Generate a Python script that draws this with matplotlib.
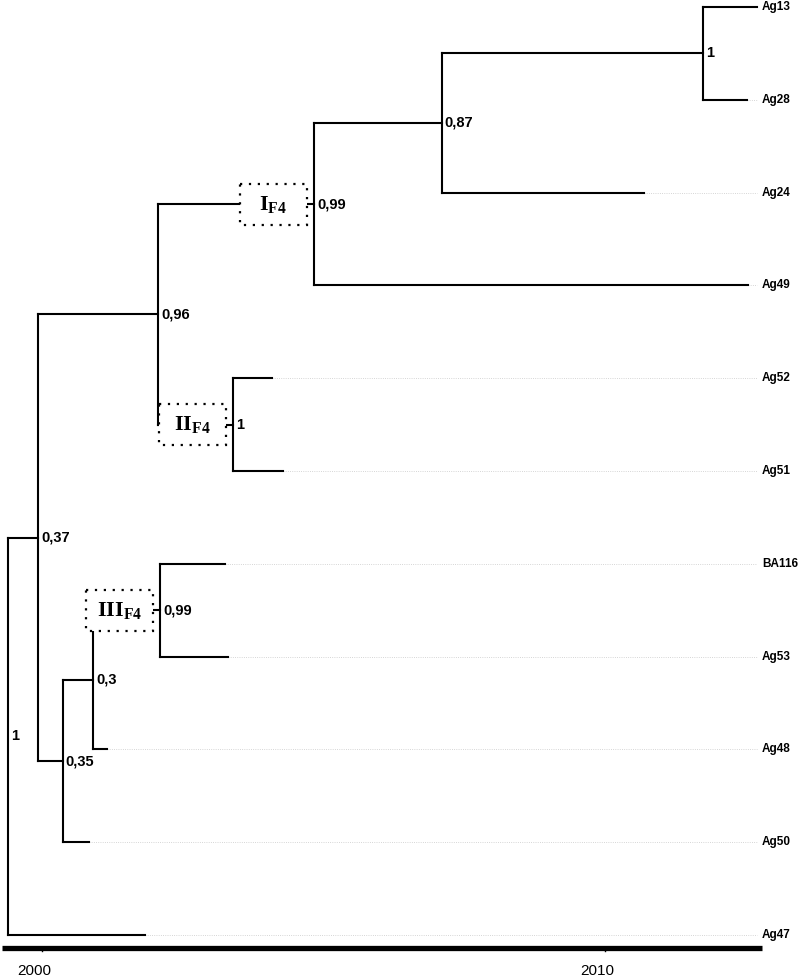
import matplotlib.pyplot as plt
from matplotlib.patches import Rectangle

plt.rcParams['font.family'] = ['Liberation Sans', 'DejaVu Sans']
plt.rcParams['mathtext.fontset'] = 'custom'
plt.rcParams['mathtext.rm'] = 'Liberation Serif'
plt.rcParams['mathtext.bf'] = 'Liberation Serif:bold'

# leaves (top to bottom) and their tip dates
leaves = ["Ag13", "Ag28", "Ag24", "Ag49", "Ag52", "Ag51", "BA116", "Ag53", "Ag48", "Ag50", "Ag47"]
leaf_dates = [2012.70, 2012.52, 2010.69, 2012.54, 2004.09, 2004.28, 2003.25, 2003.30, 2001.15, 2000.83, 2001.83]

# internal nodes: children (int = leaf index, str = node name), date, posterior support
node_names = ["n1", "n087", "nI", "nII", "n096", "nIII", "n03", "n035", "n037", "root"]
node_children = [(0, 1), ("n1", 2), ("n087", 3), (4, 5), ("nI", "nII"),
                 (6, 7), ("nIII", 8), ("n03", 9), ("n096", "n035"), ("n037", 10)]
node_dates = [2011.74, 2007.10, 2004.83, 2003.39, 2002.06, 2002.10, 2000.91, 2000.37, 1999.93, 1999.40]
node_support = ["1", "0,87", "0,99", "1", "0,96", "0,99", "0,3", "0,35", "0,37", "1"]

# clade boxes
clade_nodes = ["nI", "nII", "nIII"]
clade_labels = ["I", "II", "III"]

tick_years = [2000, 2010]

# pixel based layout: x pixel 42 = year 2000, y pixel 7 = first leaf
PX_YEAR = 56.3
PX_LEAF = 92.8
dx = 1 / PX_YEAR
dy = 1 / PX_LEAF


def px(p):
    return 2000 + (p - 42) * dx


def py(p):
    return (p - 7) * dy


fig = plt.figure(figsize=(7.99, 9.80), dpi=100)
ax = fig.add_axes([0, 0, 1, 1])
ax.set_xlim(px(0), px(799))
ax.set_ylim(py(980), py(0))
ax.axis("off")

pos = {}
for i in range(len(leaves)):
    pos[i] = (leaf_dates[i], i)

for name, ch, d in zip(node_names, node_children, node_dates):
    ys = [pos[c][1] for c in ch]
    pos[name] = (d, sum(ys) / 2)

lw = 1.5
for name, ch, d, s in zip(node_names, node_children, node_dates, node_support):
    x, y = pos[name]
    ys = [pos[c][1] for c in ch]
    ax.plot([x, x], [min(ys), max(ys)], color="black", lw=lw, solid_capstyle="projecting", zorder=2)
    for c in ch:
        cx, cy = pos[c]
        ax.plot([x, cx], [cy, cy], color="black", lw=lw, solid_capstyle="projecting", zorder=2)
    ax.text(x + 3 * dx, y, s, ha="left", va="center", fontsize=10.5, fontweight="bold", zorder=4)

label_x = px(762)
for i, name in enumerate(leaves):
    ax.plot([leaf_dates[i], px(757)], [i, i], color="#c8c8c8", lw=0.6, ls=":", zorder=1)
    ax.text(label_x, i, name, ha="left", va="center", fontsize=8.5, fontweight="bold")

for name, lab in zip(clade_nodes, clade_labels):
    x, y = pos[name]
    w = 67 * dx
    h = 41 * dy
    x1 = x - 7 * dx
    ax.add_patch(Rectangle((x1 - w, y - h / 2), w, h, facecolor="white", edgecolor="black",
                           lw=1.6, ls=(0, (1, 3)), zorder=3))
    ax.text(x1 - w / 2, y + 1 * dy, r"$\mathbf{" + lab + r"}_{\mathbf{F4}}$",
            ha="center", va="center", fontsize=16, zorder=5)

# time axis
axis_y = py(947.5)
ax.plot([px(2), px(762)], [axis_y, axis_y], color="black", lw=3.8,
        solid_capstyle="butt", zorder=2)
for t in tick_years:
    ax.plot([t, t], [axis_y, axis_y + 3 * dy], color="black", lw=1.0)
    ax.text(t - 8 * dx, py(971), str(t), ha="center", va="center", fontsize=11)

fig.savefig("out.png", dpi=100)
